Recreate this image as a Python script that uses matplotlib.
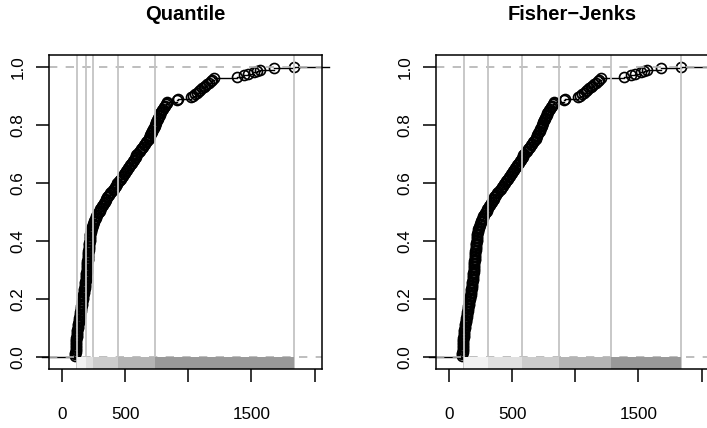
import numpy as np
import matplotlib
matplotlib.use("Agg")
import matplotlib.pyplot as plt

plt.rcParams['font.family'] = ['Liberation Sans', 'DejaVu Sans']

# sorted sample values (n = 200)
values = [
	105, 106, 107, 108, 109, 110, 110, 111, 111, 112,
	113, 114, 115, 116, 117, 118, 120, 121, 123,
	125, 127, 129, 131, 133, 135, 137, 139, 141, 143, 145,
	147, 149, 151, 153, 155, 157, 159, 161, 163, 165, 167, 169,
	171, 173, 174, 176, 178, 180, 181, 183, 185, 186, 188,
	189, 191, 192, 193, 194, 195, 196, 197, 198, 199, 200, 201,
	202, 203, 204, 205, 206, 207, 208, 209, 211, 212, 214,
	215, 216, 217, 219, 220, 222, 223, 225, 226, 228, 230, 232,
	236, 240, 244, 248, 252, 257, 262, 267, 273, 279, 285,
	291, 298, 305, 312, 319, 326, 333, 340, 347, 353, 358,
	366, 374, 383, 392, 401, 410, 419, 428, 434, 440,
	449, 457, 466, 475, 483, 492, 501, 509, 518, 527,
	534, 541, 548, 555, 562, 569, 576, 583, 590, 598,
	607, 616, 624, 633, 642, 651, 660, 668, 677, 686,
	691, 696, 701, 706, 712, 717, 722, 727, 733, 738,
	743, 748, 753, 759, 764, 769, 774, 780, 785, 790,
	797, 805, 812, 820, 828, 835,
	911, 922, 1025, 1040, 1057, 1070, 1083, 1096, 1110, 1122, 1136, 1150,
	1163, 1176, 1189, 1202,
	1382, 1440, 1474, 1519, 1545, 1564, 1678, 1840,
]

quantile_brks = [116, 190, 248, 443, 738, 1840]
fisher_brks = [116, 309, 579, 874, 1284, 1840]
class_cols = ['#f2f2f2', '#e0e0e0', '#cccccc', '#b4b4b4', '#999999']

titles = ['Quantile', 'Fisher\u2212Jenks']
xticks = [0, 500, 1000, 1500, 2000]
xtick_labels = ['0', '500', '', '1500', '']
yticks = [0.0, 0.2, 0.4, 0.6, 0.8, 1.0]
ytick_labels = ['0.0', '0.2', '0.4', '0.6', '0.8', '1.0']

xlim = (-102, 2058)
ylim = (-0.04, 1.04)


def draw_ecdf(ax, x, brks):
	n = len(x)
	y = np.arange(1, n + 1) / n
	# step segments, with tails running past the box like R does
	xs = list(x) + [2116]
	ax.plot([-160, x[0]], [0, 0], color='black', lw=1.0, clip_on=False, zorder=2)
	for i in range(n):
		ax.plot([xs[i], xs[i + 1]], [y[i], y[i]], color='black', lw=1.0,
			clip_on=(i < n - 1), zorder=2)
	ax.plot(x, y, linestyle='none', marker='o', markersize=7.2,
		markerfacecolor='none', markeredgecolor='black', markeredgewidth=1.2, zorder=3)
	for h in (0, 1):
		ax.axhline(h, color='#b3b3b3', lw=1.2, dashes=(5, 5), zorder=4)
	for b in brks:
		ax.axvline(b, color='#c4c4c4', lw=1.3, zorder=5)
	for i in range(len(brks) - 1):
		ax.fill_between([brks[i], brks[i + 1]], ylim[0], 0, color=class_cols[i],
			lw=0, zorder=6)


fig = plt.figure(figsize=(7.07, 4.28), dpi=100)
axes = [fig.add_axes([0.0693, 0.1379, 0.3861, 0.7336]),
	fig.add_axes([0.6167, 0.1379, 0.3861, 0.7336])]

for ax, brks, title in zip(axes, [quantile_brks, fisher_brks], titles):
	draw_ecdf(ax, values, brks)
	ax.set_xlim(xlim)
	ax.set_ylim(ylim)
	ax.set_xticks(xticks)
	ax.set_xticklabels(xtick_labels)
	ax.set_yticks(yticks)
	ax.set_yticklabels(ytick_labels, rotation=90, va='center')
	ax.tick_params(axis='x', length=9.5, width=1.1, pad=18, labelsize=12.3)
	ax.tick_params(axis='y', length=9.5, width=1.1, pad=7.5, labelsize=12.3)
	for s in ax.spines.values():
		s.set_linewidth(1.1)
		s.set_zorder(7)
	bb = ax.get_position()
	fig.text((bb.x0 + bb.x1) / 2, 1 - 14.5 / 428, title, ha='center', va='center',
		fontsize=14.5, fontweight='bold')

fig.savefig('out.png', dpi=100)
